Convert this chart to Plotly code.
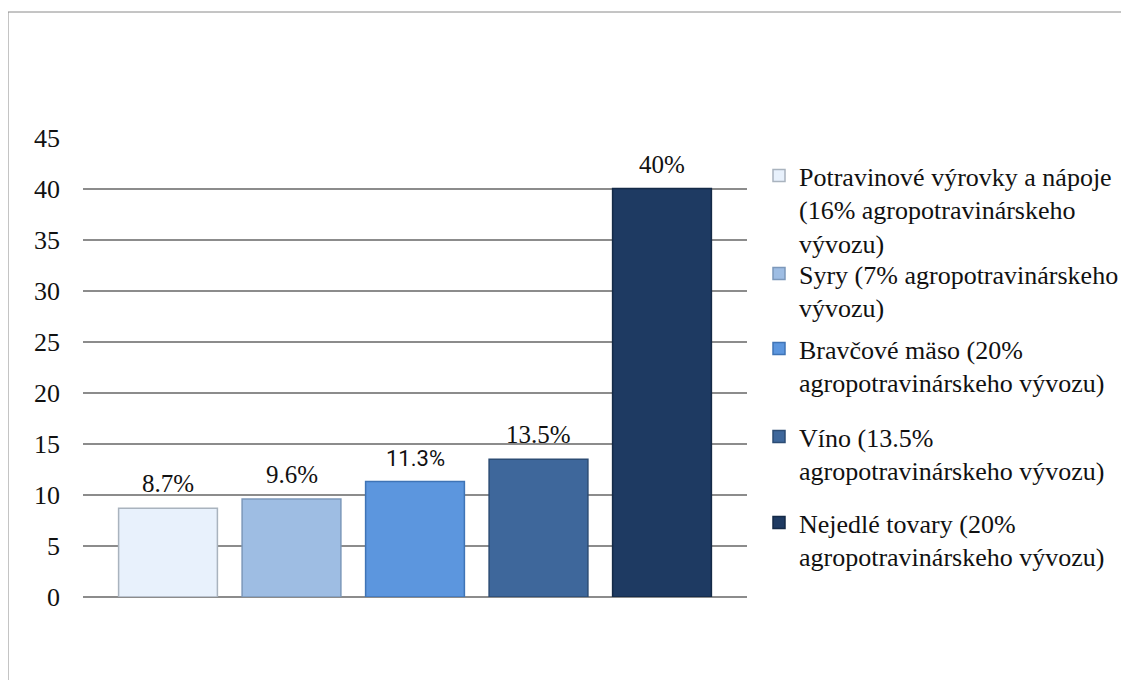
import plotly.graph_objects as go

# data
series_names = [
    "Potravinové výrovky a nápoje<br>(16% agropotravinárskeho<br>vývozu)",
    "Syry (7% agropotravinárskeho<br>vývozu)",
    "Bravčové mäso (20%<br>agropotravinárskeho vývozu)",
    "Víno (13.5%<br>agropotravinárskeho vývozu)",
    "Nejedlé tovary (20%<br>agropotravinárskeho vývozu)",
]
categories = ["c1", "c2", "c3", "c4", "c5"]
values = [8.7, 9.6, 11.3, 13.5, 40]
labels = ["8.7%", "9.6%", "11.3%", "13.5%", "40%"]

bar_colors = ["#E8F1FC", "#9EBDE3", "#5C96DE", "#3E679B", "#1E3A62"]
edge_colors = ["#A9B3BE", "#7C98BA", "#3F74B6", "#2C4C74", "#142A47"]
SERIF = "Liberation Serif, Times New Roman, Tinos, serif"
label_fonts = [SERIF, SERIF, "Roboto", SERIF, SERIF]
label_sizes = [25, 25, 22, 25, 25]

OFF = 8                                   # page body margin
W, H = 1129 - OFF, 680 - OFF
L, R, T, B = 83 - OFF, 747 - OFF, 137 - OFF, 597 - OFF   # plot area in pixels
legend_y = [152, 250, 325, 413, 499]     # top of each legend entry (px, reference coords)

fig = go.Figure()
for i, name in enumerate(series_names):
    fig.add_trace(go.Bar(
        x=[categories[i]], y=[values[i]], name=name,
        marker_color=bar_colors[i],
        marker_line=dict(color=edge_colors[i], width=1.5),
        legend="legend" if i == 0 else f"legend{i + 1}",
        hoverinfo="y",
    ))
    fig.add_annotation(
        x=categories[i], y=values[i], text=labels[i],
        showarrow=False, yanchor="bottom", yshift=9,
        font=dict(family=label_fonts[i], size=label_sizes[i], color="#111111"),
    )

pw, ph = R - L, B - T
legends = {}
for i, yy in enumerate(legend_y):
    key = "legend" if i == 0 else f"legend{i + 1}"
    legends[key] = dict(
        xref="container", yref="container",
        x=(759 - OFF) / W, y=1 - (yy - OFF) / H, xanchor="left", yanchor="top",
        font=dict(family=SERIF, size=26, color="#111111"),
        bgcolor="rgba(0,0,0,0)", valign="top", itemwidth=30,
        itemclick=False, itemdoubleclick=False,
    )

fig.update_layout(
    width=W, height=H, autosize=False,
    margin=dict(l=L, r=W - R, t=T, b=H - B),
    paper_bgcolor="white", plot_bgcolor="white",
    barmode="overlay", bargap=0.2,
    showlegend=True,
    **legends,
)

span = pw / 123.5  # category units visible across the plot area
pad = (span - len(categories)) / 2
fig.update_xaxes(type="category", range=[-0.5 - pad, len(categories) - 0.5 + pad],
                 showticklabels=False, showgrid=False, zeroline=False, showline=False)
fig.update_yaxes(range=[0, 45.05], tickvals=list(range(0, 50, 5)), showgrid=True,
                 gridcolor="#8C8C8C", gridwidth=2,
                 zeroline=True, zerolinecolor="#8C8C8C", zerolinewidth=2,
                 showline=False, ticks="", ticklabelstandoff=22,
                 tickfont=dict(family=SERIF, size=26, color="#111111"))

# outer chart frame
fig.add_shape(type="rect", xref="paper", yref="paper",
              x0=(8 - OFF - L) / pw, x1=(W + 10 - L) / pw,
              y0=(B - H - 10) / ph, y1=(B - (12 - OFF)) / ph,
              line=dict(color="#8A8A8A", width=1), fillcolor="rgba(0,0,0,0)", layer="below")

fig.write_html("out.html")
